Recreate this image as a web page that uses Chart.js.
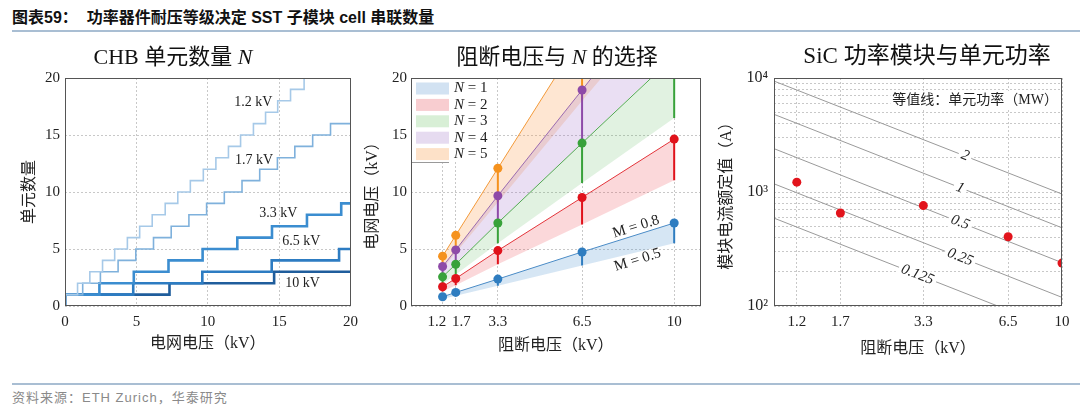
<!DOCTYPE html>
<html>
<head>
<meta charset="utf-8">
<script src="https://cdn.jsdelivr.net/npm/chart.js@4.4.0/dist/chart.umd.min.js"></script>
<style>
body{margin:0;width:1080px;height:410px;background:#fff;position:relative;overflow:hidden;font-family:'Liberation Sans','Noto Sans CJK SC',sans-serif}
#head{position:absolute;left:12px;top:4px;font-size:16px;font-weight:bold;color:#111;white-space:pre}
.rule{position:absolute;left:12px;right:0;height:2px;background:#a9bed3}
#foot{position:absolute;left:12px;top:387px;font-size:13px;color:#8a8a8a;letter-spacing:1px}
.panel{position:absolute;top:35px}
.panel canvas{display:block}
</style>
</head>
<body>
<div id="head">图表59：  功率器件耐压等级决定 SST 子模块 cell 串联数量</div>
<div class="rule" style="top:30px"></div>
<div class="rule" style="top:383px"></div>
<div id="foot">资料来源：ETH Zurich，华泰研究</div>
<div class="panel" style="left:0px"><canvas id="c1" width="365" height="330"></canvas></div>
<div class="panel" style="left:360px"><canvas id="c2" width="345" height="330"></canvas></div>
<div class="panel" style="left:700px"><canvas id="c3" width="380" height="330"></canvas></div>
<script>
// ---------- data ----------
// panel 1: CHB cell count vs grid voltage (step breakpoints)
const chbX12 = [0, 0, 0.88, 1.74, 2.63, 3.48, 4.37, 5.23, 6.11, 7.02, 7.9, 8.78, 9.69, 10.57, 11.45, 12.3, 13.2, 14.05, 14.9, 15.8, 16.75, 20];
const chbN12 = [0, 1, 2, 3, 4, 5, 6, 7, 8, 9, 10, 11, 12, 13, 14, 15, 16, 17, 18, 19, 20, 20];
const chbX17 = [0, 0, 1.24, 2.48, 3.72, 4.96, 6.2, 7.44, 8.68, 9.92, 11.16, 12.4, 13.64, 14.88, 16.1, 17.35, 18.6, 20];
const chbN17 = [0, 1, 2, 3, 4, 5, 6, 7, 8, 9, 10, 11, 12, 13, 14, 15, 16, 16];
const chbX33 = [0, 0, 2.41, 4.82, 7.25, 9.64, 12.07, 14.5, 16.95, 19.35, 20];
const chbN33 = [0, 1, 2, 3, 4, 5, 6, 7, 8, 9, 9];
const chbX65 = [0, 0, 4.78, 9.62, 14.48, 19.2, 20];
const chbN65 = [0, 1, 2, 3, 4, 5, 5];
const chbX10 = [0, 0, 7.32, 14.65, 20];
const chbN10 = [0, 1, 2, 3, 3];

// panel 2: grid voltage vs blocking voltage, per N (upper M=0.8, lower band edge)
const blockV = [1.2, 1.7, 3.3, 6.5, 10];
const blockTickLabels = ['1.2   ', '   1.7', '3.3', '6.5', '10'];
const n1Hi = [0.81, 1.19, 2.36, 4.74, 7.28];
const n1Lo = [0.61, 0.9, 1.78, 3.55, 5.5];
const n2Hi = [1.69, 2.41, 4.86, 9.52, 14.64];
const n2Lo = [1.27, 1.82, 3.67, 7.16, 11.03];
const n3Hi = [2.56, 3.66, 7.28, 14.29, 21.9];
const n3Lo = [1.93, 2.76, 5.5, 10.8, 16.5];
const n4Hi = [3.46, 4.92, 9.67, 18.95, 29.2];
const n4Lo = [2.6, 3.7, 7.3, 14.3, 22.0];
const n5Hi = [4.37, 6.2, 12.08, 23.8, 36.4];
const n5Lo = [3.3, 4.67, 9.1, 18.0, 27.5];

// panel 3: SiC module current rating and cell-power contours
const sicI = [1220, 655, 760, 405, 238];
const contourX = [1, 10];
const contour2 = [9400, 960];
const contour1 = [4800, 485];
const contour05 = [2400, 240];
const contour025 = [1180, 119];
const contour0125 = [590, 60];
const yLogTicks = [100, 200, 300, 400, 500, 600, 700, 800, 900, 1000, 2000, 3000, 4000, 5000, 6000, 7000, 8000, 9000, 10000];
const yPowVals = [100, 1000, 10000];
const yPowLabels = ['10²', '10³', '10⁴'];

// ---------- helpers ----------
const serif = "'Liberation Serif','Noto Sans CJK SC',serif";
Chart.defaults.font.family = serif;
Chart.defaults.font.size = 15;
Chart.defaults.color = '#222';
Chart.defaults.animation = false;
Chart.defaults.plugins.legend.display = false;
Chart.defaults.plugins.tooltip.enabled = false;
const GRID = '#c8c8c8';

const pts = (xs, ys) => xs.map((x, i) => ({x: x, y: ys[i]}));

const decor = {
  id: 'decor',
  afterDatasetsDraw(chart, args, o) {
    const ctx = chart.ctx, a = chart.chartArea, sx = chart.scales.x, sy = chart.scales.y;
    ctx.save();
    (o.labels || []).forEach(l => {
      const px = sx.getPixelForValue(l.x), py = sy.getPixelForValue(l.y);
      let ang = 0;
      if (l.along) {
        const [x1, y1, x2, y2] = l.along;
        ang = Math.atan2(sy.getPixelForValue(y2) - sy.getPixelForValue(y1), sx.getPixelForValue(x2) - sx.getPixelForValue(x1));
      }
      ctx.save();
      ctx.translate(px, py);
      ctx.rotate(ang);
      ctx.font = (l.italic ? 'italic ' : '') + (l.size || 14) + 'px ' + serif;
      const w = ctx.measureText(l.t).width;
      if (l.bg) { ctx.fillStyle = '#fff'; ctx.fillRect(-w / 2 - 3, -8, w + 6, 16); }
      ctx.fillStyle = '#222';
      ctx.textAlign = 'center';
      ctx.textBaseline = 'middle';
      ctx.fillText(l.t, 0, 0);
      ctx.restore();
    });
    if (o.note) {
      ctx.font = o.note.size + 'px ' + serif;
      const w = ctx.measureText(o.note.t).width;
      const rx = a.right - 4, cy = a.top + 22;
      ctx.fillStyle = '#fff';
      ctx.fillRect(rx - w - 2, cy - 9, w + 4, 18);
      ctx.fillStyle = '#222';
      ctx.textAlign = 'right';
      ctx.textBaseline = 'middle';
      ctx.fillText(o.note.t, rx, cy);
    }
    if (o.legend) {
      const x0 = a.left + 1, y0 = a.top + 1;
      ctx.fillStyle = '#fff';
      ctx.fillRect(x0, y0, 80, 83);
      ctx.strokeStyle = '#999';
      ctx.lineWidth = 1;
      ctx.beginPath();
      ctx.moveTo(a.left, y0 + 83.5);
      ctx.lineTo(a.left + 38, y0 + 83.5);
      ctx.stroke();
      o.legend.forEach((it, i) => {
        const cy = a.top + 10.5 + i * 16.4;
        ctx.fillStyle = it.color;
        ctx.fillRect(a.left + 5, cy - 6, 33, 12);
        ctx.fillStyle = '#222';
        ctx.textAlign = 'left';
        ctx.textBaseline = 'middle';
        ctx.font = 'italic 15px ' + serif;
        ctx.fillText('N', a.left + 43, cy);
        const w = ctx.measureText('N').width;
        ctx.font = '15px ' + serif;
        ctx.fillText(' = ' + it.n, a.left + 43 + w, cy);
      });
    }
    // plot frame
    ctx.strokeStyle = '#555';
    ctx.lineWidth = 1;
    ctx.strokeRect(Math.round(a.left) + 0.5, Math.round(a.top) + 0.5, Math.round(a.right - a.left) - 1, Math.round(a.bottom - a.top) - 1);
    ctx.restore();
  },
  afterDraw(chart, args, o) {
    if (!o.title) return;
    const ctx = chart.ctx, t = o.title;
    ctx.save();
    ctx.textBaseline = 'middle';
    ctx.textAlign = 'left';
    ctx.fillStyle = '#111';
    const fonts = t.parts.map(p => (p.italic ? 'italic ' : '') + t.size + 'px ' + serif);
    let total = 0;
    const widths = t.parts.map((p, i) => { ctx.font = fonts[i]; const w = ctx.measureText(p.t).width; total += w; return w; });
    let x = t.cx - total / 2;
    t.parts.forEach((p, i) => { ctx.font = fonts[i]; ctx.fillText(p.t, x, t.cy); x += widths[i]; });
    ctx.restore();
  }
};

function scaleBase(extra) {
  return Object.assign({
    grid: {color: GRID, drawTicks: false},
    border: {display: false, dash: [2, 2]}
  }, extra);
}

// ---------- panel 1 ----------
const chbSeries = [
  {x: chbX10, n: chbN10, color: '#1f5d9c', w: 2.6, order: 5},
  {x: chbX65, n: chbN65, color: '#2d7cc2', w: 2.6, order: 4},
  {x: chbX33, n: chbN33, color: '#3b8dd0', w: 2.6, order: 3},
  {x: chbX17, n: chbN17, color: '#7fb1dc', w: 1.6, order: 2},
  {x: chbX12, n: chbN12, color: '#a6c9e8', w: 1.6, order: 1}
];
new Chart(document.getElementById('c1'), {
  type: 'line',
  data: {
    datasets: chbSeries.map(s => ({
      data: pts(s.x, s.n), stepped: 'before', borderColor: s.color, borderWidth: s.w,
      pointRadius: 0, fill: false, order: s.order
    }))
  },
  options: {
    responsive: false,
    layout: {padding: {top: 43, right: 13, bottom: 0, left: 0}},
    scales: {
      x: scaleBase({type: 'linear', min: 0, max: 20,
        ticks: {stepSize: 5, padding: 7, maxRotation: 0},
        title: {display: true, text: '电网电压（kV）', font: {size: 16}, padding: {top: 0, bottom: 12}},
        afterFit: s => { s.height = 59; }}),
      y: scaleBase({type: 'linear', min: 0, max: 20,
        ticks: {stepSize: 5, padding: 5},
        title: {display: true, text: '单元数量', font: {size: 16}, padding: {top: 20, bottom: 0}},
        afterFit: s => { s.width = 65; }})
    },
    plugins: {
      decor: {
        title: {cx: 173, cy: 23, size: 22, parts: [{t: 'CHB 单元数量 '}, {t: 'N', italic: true}]},
        labels: [
          {t: '1.2 kV', x: 13.2, y: 17.85},
          {t: '1.7 kV', x: 13.25, y: 12.8},
          {t: '3.3 kV', x: 14.95, y: 8.16},
          {t: '6.5 kV', x: 16.55, y: 5.7},
          {t: '10 kV', x: 16.65, y: 2.0}
        ]
      }
    }
  },
  plugins: [decor]
});

// ---------- panel 2 ----------
const nSeries = [
  {n: 1, hi: n1Hi, lo: n1Lo, line: '#4a8bc6', dot: '#2f7dc0', fill: 'rgba(70,140,205,0.22)', sw: '#d2e2f2'},
  {n: 2, hi: n2Hi, lo: n2Lo, line: '#e3343a', dot: '#e0121b', fill: 'rgba(235,60,70,0.2)', sw: '#f8cdd0'},
  {n: 3, hi: n3Hi, lo: n3Lo, line: '#52a852', dot: '#38a23a', fill: 'rgba(80,180,80,0.17)', sw: '#d8efd6'},
  {n: 4, hi: n4Hi, lo: n4Lo, line: '#9a6bb0', dot: '#8e4aa8', fill: 'rgba(160,110,200,0.22)', sw: '#e6dbf0'},
  {n: 5, hi: n5Hi, lo: n5Lo, line: '#f39a3a', dot: '#f5921e', fill: 'rgba(250,160,80,0.26)', sw: '#fde1c8'}
];
const ds2 = [];
nSeries.forEach(s => {
  ds2.push({data: pts(blockV, s.hi), borderColor: s.line, borderWidth: 1, pointRadius: 0, fill: '+1', backgroundColor: s.fill, order: 30});
  ds2.push({data: pts(blockV, s.lo), borderColor: 'rgba(0,0,0,0)', borderWidth: 0, pointRadius: 0, fill: false, order: 30});
});
nSeries.forEach(s => {
  ds2.push({
    data: blockV.flatMap((x, i) => [{x: x, y: s.lo[i]}, {x: x, y: s.hi[i]}, {x: x, y: null}]),
    borderColor: s.dot, borderWidth: 2, pointRadius: 0, fill: false, spanGaps: false, order: 20
  });
});
nSeries.forEach(s => {
  ds2.push({data: pts(blockV, s.hi), showLine: false, pointRadius: 4.5, pointBackgroundColor: s.dot,
    pointBorderColor: s.dot, pointBorderWidth: 0, order: 10});
});
new Chart(document.getElementById('c2'), {
  type: 'line',
  data: {datasets: ds2},
  options: {
    responsive: false,
    layout: {padding: {top: 43, right: 4, bottom: 0, left: 0}},
    scales: {
      x: scaleBase({type: 'linear', min: 0, max: 11,
        afterBuildTicks: s => { s.ticks = blockV.map(v => ({value: v})); },
        ticks: {padding: 7, maxRotation: 0, autoSkip: false, callback: (v, i) => blockTickLabels[i]},
        title: {display: true, text: '阻断电压（kV）', font: {size: 16}, padding: {top: 0, bottom: 10}},
        afterFit: s => { s.height = 59; }}),
      y: scaleBase({type: 'linear', min: 0, max: 20,
        ticks: {stepSize: 5, padding: 4},
        title: {display: true, text: '电网电压（kV）', font: {size: 16}, padding: {top: 3, bottom: 0}},
        afterFit: s => { s.width = 51; }})
    },
    plugins: {
      decor: {
        title: {cx: 197, cy: 23, size: 22, parts: [{t: '阻断电压与 '}, {t: 'N', italic: true}, {t: ' 的选择'}]},
        labels: [
          {t: 'M = 0.8', x: 8.55, y: 6.94, size: 15, along: [6.5, n1Hi[3], 10, n1Hi[4]]},
          {t: 'M = 0.5', x: 8.61, y: 4.03, size: 15, along: [6.5, n1Hi[3], 10, n1Hi[4]]}
        ],
        legend: nSeries.map(s => ({n: s.n, color: s.sw}))
      }
    }
  },
  plugins: [decor]
});

// ---------- panel 3 ----------
const contours = [contour2, contour1, contour05, contour025, contour0125];
const ds3 = contours.map(c => ({data: pts(contourX, c), borderColor: '#9a9a9a', borderWidth: 1, pointRadius: 0, fill: false, order: 20}));
ds3.push({data: pts(blockV, sicI), showLine: false, pointRadius: 4.5, pointBackgroundColor: '#e2141c', pointBorderColor: '#e2141c', pointBorderWidth: 0, order: 10});
new Chart(document.getElementById('c3'), {
  type: 'line',
  data: {datasets: ds3},
  options: {
    responsive: false,
    layout: {padding: {top: 43, right: 18, bottom: 0, left: 0}},
    scales: {
      x: scaleBase({type: 'logarithmic', min: 1, max: 10,
        afterBuildTicks: s => { s.ticks = blockV.map(v => ({value: v})); },
        ticks: {padding: 7, maxRotation: 0, autoSkip: false, callback: v => String(v)},
        title: {display: true, text: '阻断电压（kV）', font: {size: 16}, padding: {top: 0, bottom: 7}},
        afterFit: s => { s.height = 59; }}),
      y: scaleBase({type: 'logarithmic', min: 100, max: 10000,
        afterBuildTicks: s => { s.ticks = yLogTicks.map(v => ({value: v})); },
        ticks: {padding: 6, autoSkip: false, font: {size: 16},
          callback: v => { const k = yPowVals.indexOf(v); return k >= 0 ? yPowLabels[k] : ''; }},
        title: {display: true, text: '模块电流额定值（A）', font: {size: 16}, padding: {top: 17, bottom: 0}},
        afterFit: s => { s.width = 74; }})
    },
    plugins: {
      decor: {
        title: {cx: 227, cy: 22, size: 23, parts: [{t: 'SiC 功率模块与单元功率'}]},
        note: {t: '等值线：单元功率（MW）', size: 14},
        labels: [
          {t: '2', x: 4.61, y: 2080, italic: true, size: 15, bg: true, along: [1, contour2[0], 10, contour2[1]]},
          {t: '1', x: 4.43, y: 1083, italic: true, size: 15, bg: true, along: [1, contour1[0], 10, contour1[1]]},
          {t: '0.5', x: 4.43, y: 540, italic: true, size: 15, bg: true, along: [1, contour05[0], 10, contour05[1]]},
          {t: '0.25', x: 4.43, y: 268, italic: true, size: 15, bg: true, along: [1, contour025[0], 10, contour025[1]]},
          {t: '0.125', x: 3.15, y: 188, italic: true, size: 15, bg: true, along: [1, contour0125[0], 10, contour0125[1]]}
        ]
      }
    }
  },
  plugins: [decor]
});
</script>
</body>
</html>
